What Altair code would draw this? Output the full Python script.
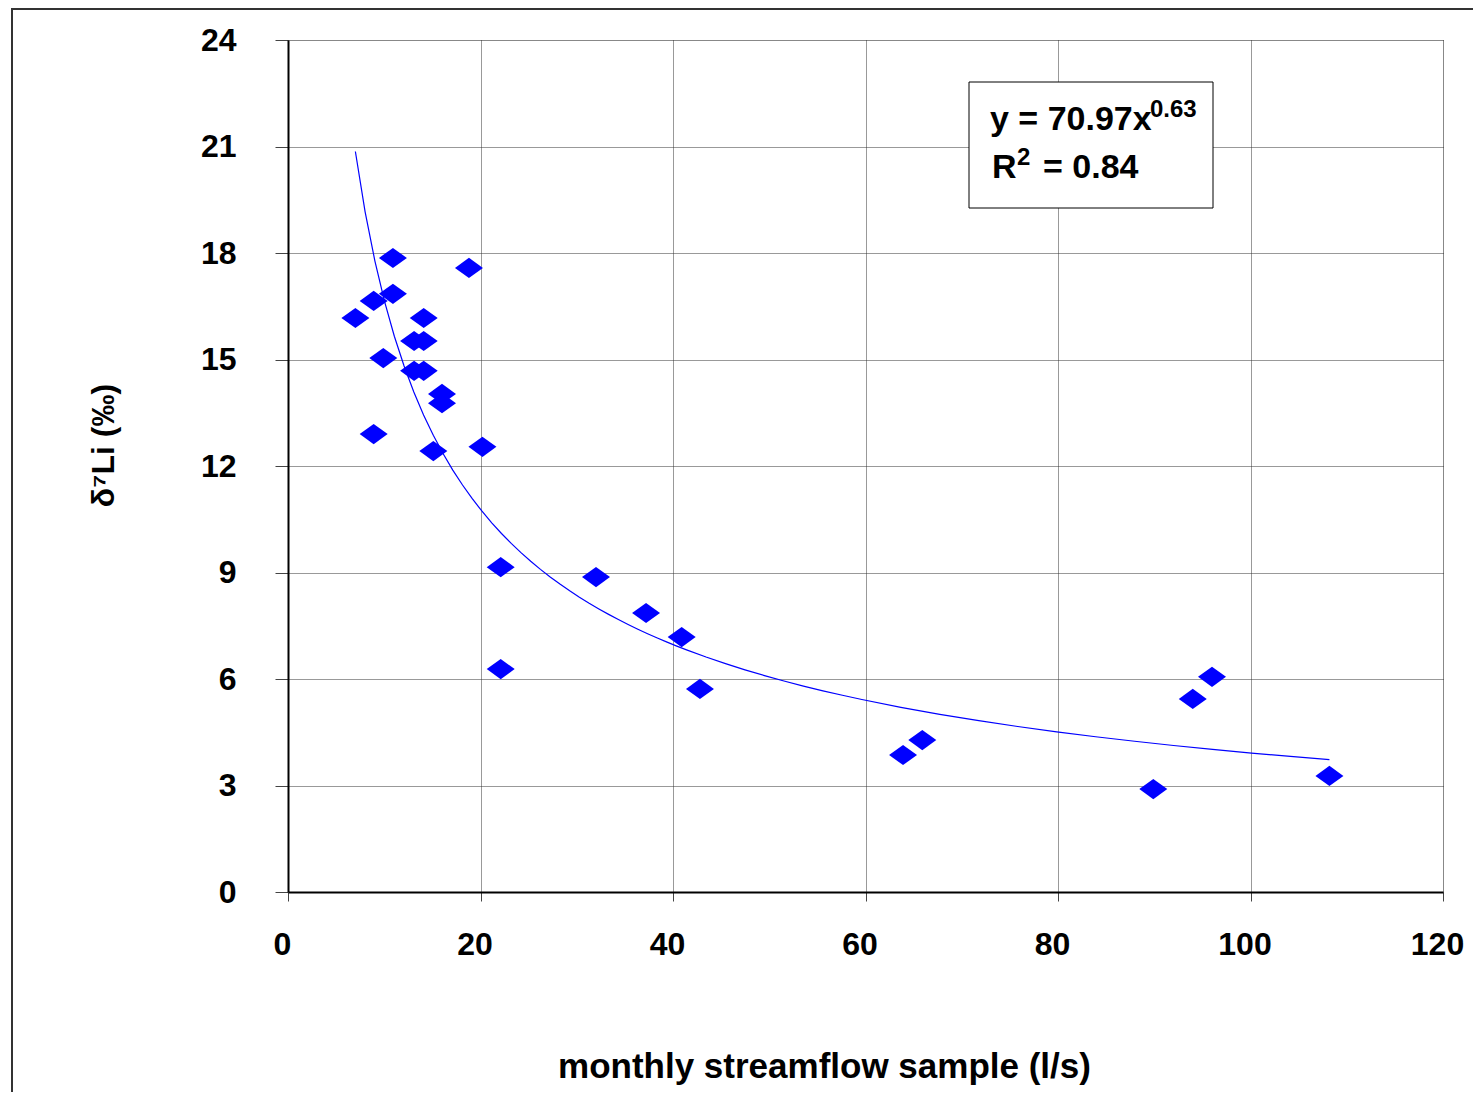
import altair as alt
import pandas as pd

# Data
flow = [7.0, 8.9, 10.9, 10.9, 9.9, 8.9, 13.1, 14.1, 14.1, 13.1, 14.1, 16.0, 16.0, 15.1,
        18.8, 20.2, 22.1, 22.1, 32.0, 37.2, 40.9, 42.8, 63.9, 65.9, 89.9, 94.0, 96.0, 108.2]
d7li = [16.17, 16.65, 17.86, 16.85, 15.04, 12.90, 15.52, 15.52, 16.17, 14.68, 14.68, 14.03, 13.77, 12.42,
        17.58, 12.54, 9.15, 6.28, 8.87, 7.86, 7.18, 5.72, 3.86, 4.28, 2.90, 5.44, 6.06, 3.27]
x_ticks = [0, 20, 40, 60, 80, 100, 120]
y_ticks = [0, 3, 6, 9, 12, 15, 18, 21, 24]
eq_main = "y = 70.97x"
eq_exp = "0.63"
r2_main = "R"
r2_exp = "2"
r2_rest = "= 0.84"

df = pd.DataFrame({"flow": flow, "d7li": d7li})

FONT = "Liberation Sans"
BLUE = "#0000FF"
W, H = 1155, 852

xscale = alt.Scale(domain=[0, 120], nice=False, zero=False)
yscale = alt.Scale(domain=[0, 24], nice=False, zero=False)

xaxis = alt.Axis(values=x_ticks, grid=True, gridDash=[1, 1], gridColor="#333333", gridWidth=1,
                 tickSize=9, tickColor="#444444", domainColor="#000000", domainWidth=2,
                 labelFont=FONT, labelFontWeight="bold", labelFontSize=32, labelColor="#000000",
                 labelPadding=28, labelOffset=-6, labelFlush=False,
                 title="monthly streamflow sample (l/s)", titleFont=FONT, titleFontWeight="bold",
                 titleFontSize=35, titleColor="#000000", titleX=536, titleY=185,
                 titleBaseline="alphabetic", titleAlign="center")
yaxis = alt.Axis(values=y_ticks, grid=True, gridDash=[1, 1], gridColor="#333333", gridWidth=1,
                 tickSize=13, tickColor="#444444", domainColor="#000000", domainWidth=2,
                 labelFont=FONT, labelFontWeight="bold", labelFontSize=32, labelColor="#000000",
                 labelPadding=39, labelFlush=False,
                 title="δ⁷Li (‰)", titleFont=FONT, titleFontWeight="bold", titleFontSize=32,
                 titleColor="#000000", titleAngle=270, titleX=-175, titleY=405,
                 titleBaseline="alphabetic", titleAlign="center")

one = alt.Data(values=[{"k": 1}])

frame = alt.Chart(one).mark_rect(fillOpacity=0, stroke="#333333", strokeWidth=2).encode(
    x=alt.value(-276), x2=alt.value(1300), y=alt.value(-31), y2=alt.value(1200))

diamond = "M-1,0L0,-0.72L1,0L0,0.72Z"
points = alt.Chart(df).mark_point(shape=diamond, filled=True, size=784, color=BLUE, opacity=1).encode(
    x=alt.X("flow:Q", scale=xscale, axis=xaxis),
    y=alt.Y("d7li:Q", scale=yscale, axis=yaxis))

trend = alt.Chart(df).transform_regression("flow", "d7li", method="pow").mark_line(
    color=BLUE, strokeWidth=1.2).encode(
    x=alt.X("flow:Q", scale=xscale), y=alt.Y("d7li:Q", scale=yscale))

box = alt.Chart(one).mark_rect(fill="white", stroke="#000000", strokeWidth=1).encode(
    x=alt.value(681), x2=alt.value(925), y=alt.value(42), y2=alt.value(168))

def label(txt, x, y, size):
    return alt.Chart(one).mark_text(text=txt, font=FONT, fontWeight="bold", fontSize=size,
                                    align="left", baseline="alphabetic", color="#000000").encode(
        x=alt.value(x), y=alt.value(y))

t1 = label(eq_main, 702, 90, 34)
t2 = label(eq_exp, 862, 77, 24)
t3 = label(r2_main, 704, 138, 34)
t4 = label(r2_exp, 729, 125, 24)
t5 = label(r2_rest, 755, 138, 34)

chart = alt.layer(frame, points, trend, box, t1, t2, t3, t4, t5).properties(
    width=W, height=H,
    autosize=alt.AutoSizeParams(type="none"),
    padding={"left": 280, "top": 32, "right": 30, "bottom": 200},
).configure_view(stroke="#000000", strokeWidth=1.5).configure(background="white")

chart.save("out.html", embed_options={"renderer": "svg", "actions": False})
